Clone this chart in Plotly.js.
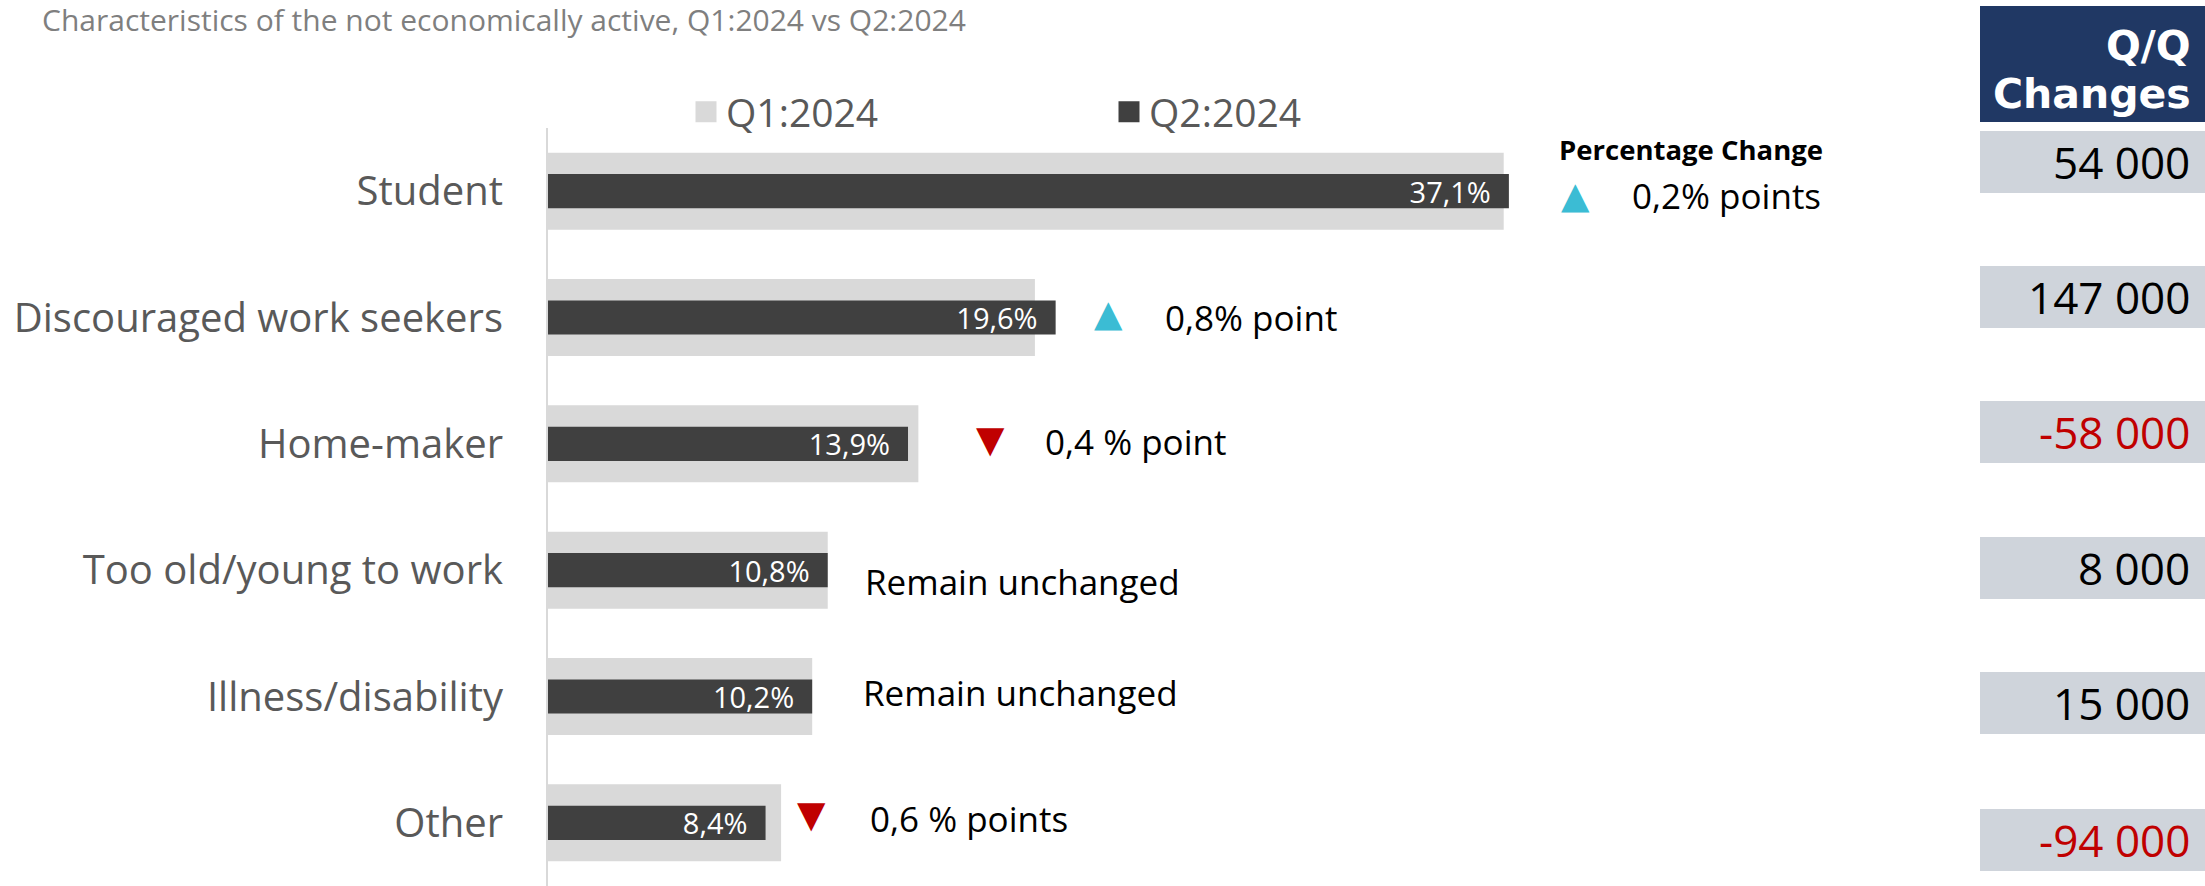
<!DOCTYPE html>
<html>
<head>
<meta charset="utf-8">
<script src="https://cdn.plot.ly/plotly-3.0.1.min.js"></script>
<style>html,body{margin:0;padding:0;background:#fff;}#chart{width:2205px;height:886px;}</style>
</head>
<body>
<div id="chart"></div>
<script>
// ---- data ----
const categories = ['Student', 'Discouraged work seekers', 'Home-maker', 'Too old/young to work', 'Illness/disability', 'Other'];
const q1Values = [36.9, 18.8, 14.3, 10.8, 10.2, 9.0];
const q2Values = [37.1, 19.6, 13.9, 10.8, 10.2, 8.4];
const seriesNames = ['Q1:2024', 'Q2:2024'];
const seriesColors = ['#d9d9d9', '#404040'];
const changeText = ['0,2% points', '0,8% point', '0,4 % point', 'Remain unchanged', 'Remain unchanged', '0,6 % points'];
const changeDirection = ['up', 'up', 'down', 'none', 'none', 'down'];
const qqChanges = [54000, 147000, -58000, 8000, 15000, -94000];
const qqHeaderLines = ['Q/Q', 'Changes'];
const titleText = 'Characteristics of the not economically active, Q1:2024 vs Q2:2024';

// ---- layout helpers (pixels) ----
const W = 2205, H = 886, L = 548, R = 0, T = 128, B = 0;
const PW = W - L - R, PH = H - T - B;
const pxX = p => (p - L) / PW;
const pxY = p => (H - B - p) / PH;
const XMAX = PW / 25.9;
const dx = p => (p - L) / 25.9;

// annotation layout positions (pixel x of triangle / text, vertical shifts)
const triPx = [1575, 1108, 990, null, null, 811];
const txtPx = [1630, 1163, 1043, 863, 861, 868];
const triShift = [-4, 4, 4, 0, 0, 8];
const txtShift = [-4, 0, 2, -11, 4, 4];

// table layout (pixel y ranges)
const boxTop = [131, 266, 401, 537, 672, 809];
const boxH = 62;
const headerLineY = [46, 94];

function fmtThousands(v) {
  const s = String(Math.abs(v)).replace(/\B(?=(\d{3})+(?!\d))/g, ' ');
  return (v < 0 ? '-' : '') + s;
}

const traces = [
  {
    type: 'bar', orientation: 'h', name: seriesNames[0], legendgroup: 'q1', showlegend: false,
    y: categories, x: q1Values, width: 0.61,
    marker: {color: seriesColors[0]}, hoverinfo: 'skip'
  },
  {
    type: 'bar', orientation: 'h', name: seriesNames[1], legendgroup: 'q2', showlegend: false,
    y: categories, x: q2Values, width: 0.27,
    marker: {color: seriesColors[1]},
    texttemplate: '%{x:.1f}%\u00a0\u00a0', textposition: 'inside', insidetextanchor: 'end',
    constraintext: 'none', cliponaxis: false,
    textfont: {family: 'Open Sans', size: 29, color: '#ffffff'},
    hoverinfo: 'skip'
  }
];
// legend entries (square swatches like the original)
seriesNames.forEach((n, i) => {
  traces.push({
    type: 'scatter', mode: 'markers', name: n, legendgroup: i === 0 ? 'q1' : 'q2',
    x: [null], y: [null],
    marker: {symbol: 'square', size: 16, color: seriesColors[i], line: {color: seriesColors[i], width: 5}},
    hoverinfo: 'skip'
  });
});

const annotations = [];
const shapes = [];

annotations.push({
  xref: 'x', yref: 'y', x: dx(1557), y: categories[0], yshift: 42,
  xanchor: 'left', yanchor: 'middle', showarrow: false,
  text: '<b>Percentage Change</b>', font: {family: 'Open Sans', size: 27.5, color: '#000000'}
});

categories.forEach((c, i) => {
  if (changeDirection[i] !== 'none') {
    annotations.push({
      xref: 'x', yref: 'y', x: dx(triPx[i]), y: c, yshift: triShift[i],
      xanchor: 'center', yanchor: 'middle', showarrow: false,
      text: changeDirection[i] === 'up' ? '\u25B2' : '\u25BC',
      font: {family: 'DejaVu Sans', size: 37, color: changeDirection[i] === 'up' ? '#3bbcd4' : '#c00000'}
    });
  }
  annotations.push({
    xref: 'x', yref: 'y', x: dx(txtPx[i]), y: c, yshift: txtShift[i],
    xanchor: 'left', yanchor: 'middle', showarrow: false,
    text: changeText[i], font: {family: 'Open Sans', size: 35, color: '#000000'}
  });
});

// Q/Q table
shapes.push({type: 'rect', xref: 'paper', yref: 'paper', x0: pxX(1980), x1: pxX(2205), y0: pxY(122), y1: pxY(6),
  fillcolor: '#203864', line: {width: 0}, layer: 'above'});
qqHeaderLines.forEach((t, i) => {
  annotations.push({xref: 'paper', yref: 'paper', x: pxX(2193), y: pxY(headerLineY[i]), xanchor: 'right', yanchor: 'middle',
    showarrow: false, align: 'right', text: '<b>' + t + '</b>',
    font: {family: 'DejaVu Sans', size: 41, color: '#ffffff'}});
});
qqChanges.forEach((v, i) => {
  shapes.push({type: 'rect', xref: 'paper', yref: 'paper', x0: pxX(1980), x1: pxX(2205),
    y0: pxY(boxTop[i] + boxH), y1: pxY(boxTop[i]), fillcolor: '#cfd4db', line: {width: 0}, layer: 'above'});
  annotations.push({xref: 'paper', yref: 'paper', x: pxX(2192), y: pxY(boxTop[i] + boxH / 2),
    xanchor: 'right', yanchor: 'middle', showarrow: false, text: fmtThousands(v),
    font: {family: 'Open Sans', size: 44, color: v < 0 ? '#c00000' : '#000000'}});
});

const layout = {
  width: W, height: H,
  margin: {l: L, r: R, t: T, b: B, pad: 0, autoexpand: false},
  paper_bgcolor: '#ffffff', plot_bgcolor: '#ffffff',
  separators: ', ',
  barmode: 'overlay',
  showlegend: true,
  title: {
    text: titleText, xref: 'container', yref: 'container',
    x: 42 / W, xanchor: 'left', y: 1 - 20 / H, yanchor: 'middle',
    font: {family: 'Open Sans', size: 30, color: '#7f7f7f'}
  },
  legend: {
    orientation: 'h', xref: 'container', yref: 'container',
    x: 686 / W, xanchor: 'left', y: 1 - 112 / H, yanchor: 'middle',
    font: {family: 'Open Sans', size: 39, color: '#595959'},
    entrywidth: 378, entrywidthmode: 'pixels', traceorder: 'normal',
    itemsizing: 'trace', bgcolor: 'rgba(0,0,0,0)'
  },
  xaxis: {
    range: [0, XMAX], showgrid: false, zeroline: false, showline: false,
    showticklabels: false, ticks: '', fixedrange: true
  },
  yaxis: {
    type: 'category', categoryorder: 'array', categoryarray: categories,
    range: [5.5, -0.5], showgrid: false, zeroline: false,
    showline: true, linecolor: '#d9d9d9', linewidth: 2,
    ticks: '', ticklabelstandoff: 35,
    tickfont: {family: 'Open Sans', size: 40, color: '#595959'}, fixedrange: true
  },
  annotations: annotations,
  shapes: shapes
};

Plotly.newPlot('chart', traces, layout, {displayModeBar: false, staticPlot: true});
</script>
</body>
</html>
